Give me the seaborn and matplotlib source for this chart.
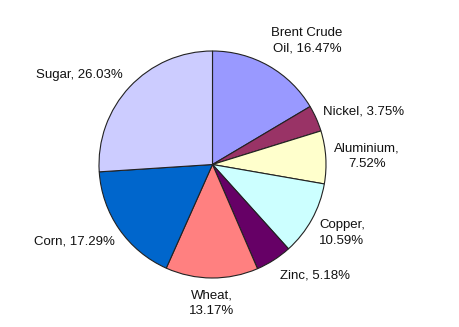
import matplotlib
matplotlib.use("Agg")
import matplotlib.pyplot as plt
import seaborn as sns

names = ["Brent Crude Oil", "Nickel", "Aluminium", "Copper", "Zinc", "Wheat", "Corn", "Sugar"]
values = [16.47, 3.75, 7.52, 10.59, 5.18, 13.17, 17.29, 26.03]
label_texts = ["Brent Crude\nOil, 16.47%", "Nickel, 3.75%", "Aluminium,\n7.52%", "Copper,\n10.59%",
               "Zinc, 5.18%", "Wheat,\n13.17%", "Corn, 17.29%", "Sugar, 26.03%"]
colors = ["#9999FF", "#993366", "#FFFFCC", "#CCFFFF", "#660066", "#FF8080", "#0066CC", "#CCCCFF"]

sns.set_theme(style="white")
plt.rcParams['font.family'] = ['Liberation Sans', 'DejaVu Sans']

W, H, DPI = 460, 327, 100
fig = plt.figure(figsize=(W / DPI, H / DPI), dpi=DPI)
ax = fig.add_axes([0, 0, 1, 1])

cx, cy, R = 212.5, 164.5, 113.5  # pie centre / radius in pixels

ax.pie(values, colors=colors, startangle=90, counterclock=False,
       wedgeprops=dict(edgecolor="#222222", linewidth=0.8))

# label positions in pixel space (layout)
label_px = [(307, 41), (364, 112), (367, 156), (342, 233), (315, 276), (212, 303), (74, 242), (79, 75)]
for txt, (px, py) in zip(label_texts, label_px):
    ax.text((px - cx) / R, (cy - py) / R, txt, ha="center", va="center",
            fontsize=9.5, color="#111111", linespacing=1.35)

ax.set_xlim((0 - cx) / R, (W - cx) / R)
ax.set_ylim((cy - H) / R, cy / R)
ax.set_aspect("equal")
ax.axis("off")

fig.savefig("out.png", dpi=DPI, facecolor="white")
